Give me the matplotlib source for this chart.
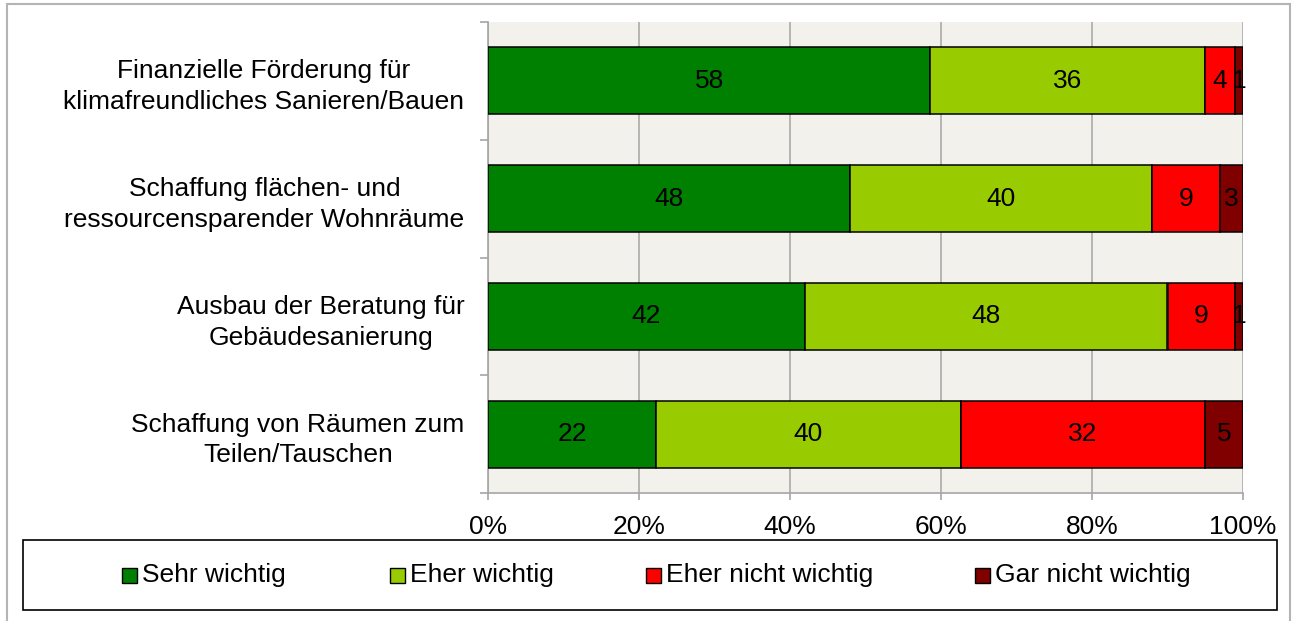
import numpy as np
import matplotlib.pyplot as plt
from matplotlib.patches import Rectangle

plt.rcParams["font.family"] = ["Liberation Sans", "DejaVu Sans"]

categories = [
    "Finanzielle Förderung für\nklimafreundliches Sanieren/Bauen",
    "Schaffung flächen- und\nressourcensparender Wohnräume",
    "Ausbau der Beratung für\nGebäudesanierung",
    "Schaffung von Räumen zum\nTeilen/Tauschen",
]
series = ["Sehr wichtig", "Eher wichtig", "Eher nicht wichtig", "Gar nicht wichtig"]
sehr_wichtig = [58, 48, 42, 22]
eher_wichtig = [36, 40, 48, 40]
eher_nicht_wichtig = [4, 9, 9, 32]
gar_nicht_wichtig = [1, 3, 1, 5]
x_ticks = [0, 0.2, 0.4, 0.6, 0.8, 1.0]
x_ticklabels = ["0%", "20%", "40%", "60%", "80%", "100%"]

colors = ["#008000", "#99CC00", "#FF0000", "#800000"]
FS = 19
W, H = 1293, 621

values = np.array([sehr_wichtig, eher_wichtig, eher_nicht_wichtig, gar_nicht_wichtig], dtype=float)
shares = values / values.sum(axis=0)

fig = plt.figure(figsize=(W / 100, H / 100), dpi=100)
ax = fig.add_axes([488 / W, 1 - 493 / H, (1243 - 488) / W, (493 - 22) / H])
ax.set_facecolor("#F2F1EB")

y = np.arange(len(categories))
left = np.zeros(len(categories))
for i, name in enumerate(series):
    ax.barh(y, shares[i], left=left, height=0.57, color=colors[i],
            edgecolor="black", linewidth=1.1, zorder=3)
    for j in range(len(categories)):
        ax.text(left[j] + shares[i][j] / 2, y[j], f"{int(values[i][j])}",
                ha="center", va="center", fontsize=FS, color="black", zorder=4)
    left += shares[i]

ax.set_xlim(0, 1)
ax.set_ylim(len(categories) - 0.5, -0.5)
ax.set_xticks(x_ticks)
ax.set_xticklabels(x_ticklabels, fontsize=FS)
ax.set_yticks(y)
ax.set_yticklabels(categories, fontsize=FS, multialignment="center", linespacing=1.35)
ax.set_yticks(np.arange(-0.5, len(categories)), minor=True)
ax.tick_params(axis="y", which="major", length=0, pad=17)
ax.tick_params(axis="y", which="minor", length=6, color="#A6A6A6", width=1.2)
ax.tick_params(axis="x", length=5, color="#A6A6A6", width=1.2, pad=11)
ax.grid(axis="x", color="#B0B0B0", linewidth=1.3, zorder=0)
for s in ["top", "right"]:
    ax.spines[s].set_visible(False)
for s in ["left", "bottom"]:
    ax.spines[s].set_color("#A6A6A6")
    ax.spines[s].set_linewidth(1.2)

# outer chart frame
fig.patches.append(Rectangle((7 / W, -0.05), (1290 - 7) / W, 1.05 - 4 / H,
                             transform=fig.transFigure, fill=False,
                             edgecolor="#B4B4B4", linewidth=1.5))

# legend box
fig.patches.append(Rectangle((23 / W, 1 - 610 / H), (1277 - 23) / W, 70 / H,
                             transform=fig.transFigure, fill=False,
                             edgecolor="black", linewidth=1.2))
legend_x = [122, 390, 646, 975]
for lx, name, c in zip(legend_x, series, colors):
    fig.patches.append(Rectangle((lx / W, 1 - 583 / H), 15 / W, 15 / H,
                                 transform=fig.transFigure, facecolor=c,
                                 edgecolor="black", linewidth=1.0))
    fig.text((lx + 20) / W, 1 - 575 / H, name, fontsize=FS, ha="left", va="center")

fig.savefig("out.png", dpi=100)
